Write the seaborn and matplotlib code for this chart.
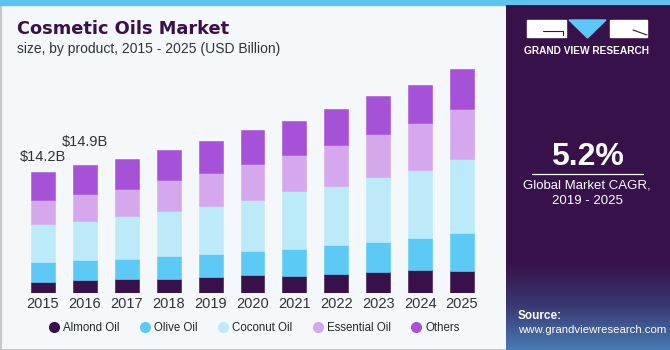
import numpy as np
import pandas as pd
import seaborn as sns
import matplotlib.pyplot as plt
from matplotlib.patches import Rectangle, Polygon
from matplotlib.lines import Line2D
from matplotlib.colors import LinearSegmentedColormap

years = ['2015', '2016', '2017', '2018', '2019', '2020', '2021', '2022', '2023', '2024', '2025']
almond = [1.36, 1.55, 1.67, 1.67, 1.87, 2.10, 2.05, 2.29, 2.49, 2.72, 2.64]
olive = [2.31, 2.33, 2.37, 2.68, 2.72, 2.84, 3.15, 3.35, 3.50, 3.73, 4.40]
coconut = [4.42, 4.55, 4.94, 5.25, 5.60, 5.92, 6.70, 6.88, 7.58, 7.93, 8.63]
essential = [2.74, 3.15, 3.23, 3.58, 3.82, 4.20, 4.20, 4.78, 5.02, 5.48, 5.83]
others = [3.37, 3.38, 3.50, 3.50, 3.77, 3.97, 3.97, 4.20, 4.43, 4.43, 4.63]
segments = ['Almond Oil', 'Olive Oil', 'Coconut Oil', 'Essential Oil', 'Others']
colors = ['#38104a', '#5ccaf5', '#bdeaf9', '#d5a7ec', '#a652d8']
annotations = {0: '$14.2B', 1: '$14.9B'}

df = pd.DataFrame({'year': years, 'Almond Oil': almond, 'Olive Oil': olive,
                   'Coconut Oil': coconut, 'Essential Oil': essential, 'Others': others})

sns.set_style('white')
plt.rcParams['font.family'] = ['Liberation Sans', 'DejaVu Sans']

fig = plt.figure(figsize=(6.7, 3.5), dpi=100)
fig.patch.set_facecolor('#f4f8fb')

# border and top stripe
bg = fig.add_axes([0, 0, 1, 1], zorder=-5)
bg.set_xlim(0, 670)
bg.set_ylim(350, 0)
bg.axis('off')
bg.add_patch(Rectangle((0.5, 0.5), 669, 349, fill=False, edgecolor='#c8c8c8', lw=1.5))
bg.add_patch(Rectangle((0, 0), 670, 5, color='#5cc4ee'))

ax = fig.add_axes([22 / 670, (350 - 293.3) / 350, 461 / 670, 240 / 350])
ax.set_facecolor('none')
bottom = np.zeros(len(years))
for seg, col in zip(segments, colors):
    sns.barplot(data=df, x='year', y=seg, bottom=bottom, color=col, width=0.57,
                saturation=1, ax=ax, edgecolor=col, linewidth=0.4)
    bottom = bottom + df[seg].values
ax.set_ylim(0, 28)
ax.set_xlim(-0.5, 10.5)
ax.set_xlabel('')
ax.set_ylabel('')
ax.set_yticks([])
sns.despine(ax=ax, left=True, bottom=True)
ax.tick_params(axis='x', length=0, labelsize=10.5, labelcolor='#333333', pad=3)
# 2016 label sits higher than the 2015 one in the original
offsets = {0: 0.9, 1: 1.9}
for i, txt in annotations.items():
    ax.text(i, bottom[i] + offsets[i], txt, ha='center', va='bottom', fontsize=10.5, color='#333333')

fig.text(17 / 670, 1 - 29 / 350, 'Cosmetic Oils Market', fontsize=12.8, fontweight='bold',
         color='#38104a', va='center', family='DejaVu Sans')
fig.text(17 / 670, 1 - 49 / 350, 'size, by product, 2015 - 2025 (USD Billion)', fontsize=10,
         color='#333333', va='center')

handles = [Line2D([0], [0], marker='o', ls='', markersize=7, markerfacecolor=c, markeredgecolor=c)
           for c in colors]
fig.legend(handles, segments, loc='center', bbox_to_anchor=(254 / 670, 1 - 328 / 350), ncol=5,
           frameon=False, fontsize=8.3, handletextpad=0.3, columnspacing=1.7, handlelength=1.0)

# right panel
pn = fig.add_axes([506 / 670, 0, 164 / 670, 345 / 350])
pn.set_xlim(506, 670)
pn.set_ylim(350, 5)
pn.axis('off')
pn.add_patch(Rectangle((506, 5), 164, 345, color='#37114a'))
grad = np.linspace(0, 1, 100)[:, None]
cmap = LinearSegmentedColormap.from_list('g', ['#37114a', '#3b3f78', '#4a86c0'])
pn.imshow(grad, extent=(506, 670, 350, 262), aspect='auto', cmap=cmap, alpha=0.9, zorder=1)

# logo
pn.add_patch(Rectangle((527, 20), 39, 17, color='white', zorder=3))
pn.plot([543, 563, 563], [31, 31, 35], color='#37114a', lw=0.8, zorder=4)
pn.add_patch(Polygon([[569, 20], [606, 20], [587.5, 38]], color='#5cc8f5', zorder=3))
pn.add_patch(Rectangle((610, 20), 37, 17, color='white', zorder=3))
pn.plot([633, 647], [30, 35], color='#37114a', lw=0.8, zorder=4)
pn.text(587, 51, 'GRAND VIEW RESEARCH', color='white', fontsize=7.3, fontweight='bold',
        ha='center', va='center', zorder=3)

pn.text(587, 157, '5.2%', color='white', fontsize=23, fontweight='bold', ha='center',
        va='center', zorder=3)
pn.plot([532, 643], [173.5, 173.5], color='white', lw=0.9, zorder=3)
pn.text(587, 186, 'Global Market CAGR,', color='white', fontsize=9.5, ha='center', va='center', zorder=3)
pn.text(587, 201, '2019 - 2025', color='white', fontsize=9.5, ha='center', va='center', zorder=3)
pn.text(518, 316, 'Source:', color='white', fontsize=8.5, fontweight='bold', ha='left', va='center', zorder=3)
pn.text(518, 330, 'www.grandviewresearch.com', color='white', fontsize=8.2, ha='left',
        va='center', zorder=3)

fig.savefig('out.png', dpi=100, facecolor=fig.get_facecolor())
